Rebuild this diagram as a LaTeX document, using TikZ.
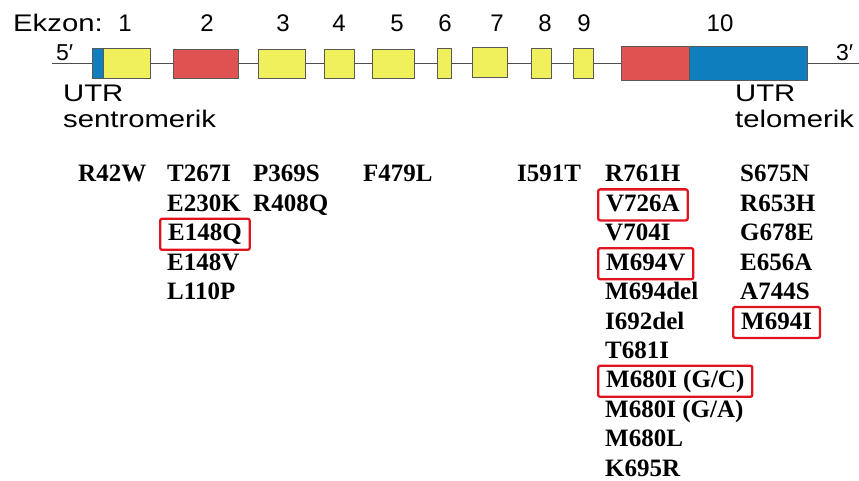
\documentclass[tikz,border=0pt]{standalone}
\usepackage{fontspec}
\setmainfont{Liberation Serif}
\newfontfamily\labfont{Liberation Sans}
\definecolor{exyel}{HTML}{F0F05C}
\definecolor{exred}{HTML}{E05252}
\definecolor{exblue}{HTML}{0E7EBE}
\definecolor{boxred}{HTML}{E0141E}
\newcommand\wider[1]{\scalebox{1.22}[1]{#1}}
\tikzset{
  exon/.style={draw=black!65, line width=0.8pt},
  lab/.style={font=\labfont\fontsize{24}{24}\selectfont, inner sep=0pt},
  endlab/.style={font=\labfont\fontsize{23}{23}\selectfont, inner sep=0pt, anchor=base west},
  mut/.style={font=\fontsize{25}{25}\selectfont\bfseries, anchor=base west, inner xsep=8pt, inner ysep=0pt, text height=22pt, text depth=9pt},
  hit/.style={mut, draw=boxred, line width=2.3pt, rounded corners=2pt},
}
\begin{document}
\begin{tikzpicture}[x=1pt,y=-1pt]
\useasboundingbox (0,0) rectangle (859,481);
% intron line
\coordinate (l5) at (52,63);
\coordinate (l3) at (859,63);
\draw[black!70, line width=0.9pt] (l5) -- (l3);
% exons
\draw[exon, fill=exblue] (92,48) rectangle (103,78);
\draw[exon, fill=exyel] (103,48) rectangle (150,78);
\draw[exon, fill=exred] (173,49) rectangle (238,78);
\draw[exon, fill=exyel] (258,49) rectangle (305,78);
\draw[exon, fill=exyel] (324,49) rectangle (354,78);
\draw[exon, fill=exyel] (372,49) rectangle (414,78);
\draw[exon, fill=exyel] (437,48) rectangle (451,78);
\draw[exon, fill=exyel] (472,47) rectangle (507,77);
\draw[exon, fill=exyel] (531,48) rectangle (551,78);
\draw[exon, fill=exyel] (573,48) rectangle (593,78);
\draw[exon, fill=exred] (621,46) rectangle (689,80);
\draw[exon, fill=exblue] (689,46) rectangle (807,80);
% labels
\node[lab, anchor=base west] (ekzon) at (13,32) {\wider{Ekzon:}};
\node[lab, anchor=base] (n1) at (125,32) {1};
\node[lab, anchor=base] (n2) at (207,32) {2};
\node[lab, anchor=base] (n3) at (283,32) {3};
\node[lab, anchor=base] (n4) at (339,32) {4};
\node[lab, anchor=base] (n5) at (397,32) {5};
\node[lab, anchor=base] (n6) at (445,32) {6};
\node[lab, anchor=base] (n7) at (497,32) {7};
\node[lab, anchor=base] (n8) at (545,32) {8};
\node[lab, anchor=base] (n9) at (584,32) {9};
\node[lab, anchor=base] (n10) at (720,32) {10};
\node[endlab] (p5) at (56,61) {5′};
\node[endlab] (p3) at (836,61) {3′};
\node[lab, anchor=base west] (utr1) at (63,102) {\wider{UTR}};
\node[lab, anchor=base west] (sen) at (63,128) {\wider{sentromerik}};
\node[lab, anchor=base west] (utr2) at (735,102) {\wider{UTR}};
\node[lab, anchor=base west] (tel) at (735,128) {\wider{telomerik}};
% mutations
\node[mut] (m1) at (70,182) {R42W};
\node[mut] (m2a) at (159,182) {T267I};
\node[mut] (m2b) at (159,211.4) {E230K};
\node[hit] (m2c) at (159,240.8) {E148Q};
\node[mut] (m2d) at (159,270.2) {E148V};
\node[mut] (m2e) at (159,299.6) {L110P};
\node[mut] (m3a) at (245,182) {P369S};
\node[mut] (m3b) at (245,211.4) {R408Q};
\node[mut] (m5) at (355,182) {F479L};
\node[mut] (m9) at (509,182) {I591T};
\node[mut] (ta) at (597,182) {R761H};
\node[hit] (tb) at (597,211.4) {V726A};
\node[mut] (tc) at (597,240.8) {V704I};
\node[hit] (td) at (597,270.2) {M694V};
\node[mut] (te) at (597,299.6) {M694del};
\node[mut] (tf) at (597,329) {I692del};
\node[mut] (tg) at (597,358.4) {T681I};
\node[hit] (th) at (597,387.8) {M680I (G/C)};
\node[mut] (ti) at (597,417.2) {M680I (G/A)};
\node[mut] (tj) at (597,446.6) {M680L};
\node[mut] (tk) at (597,476) {K695R};
\node[mut] (ua) at (732,182) {S675N};
\node[mut] (ub) at (732,211.4) {R653H};
\node[mut] (uc) at (732,240.8) {G678E};
\node[mut] (ud) at (732,270.2) {E656A};
\node[mut] (ue) at (732,299.6) {A744S};
\node[hit] (uf) at (732,329) {M694I};
\end{tikzpicture}
\end{document}
